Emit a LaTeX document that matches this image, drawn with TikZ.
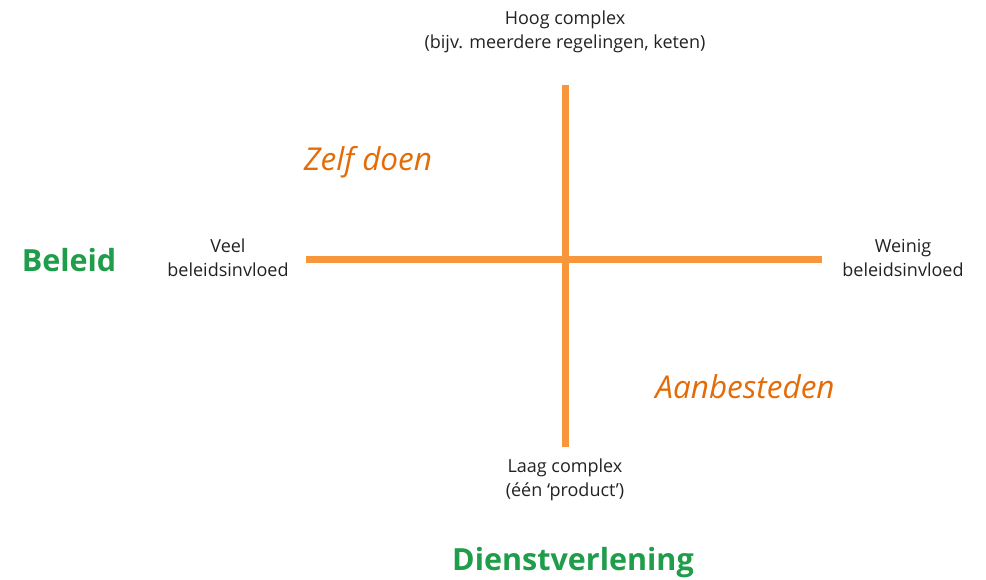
\documentclass[tikz,border=0pt]{standalone}
\usepackage{fontspec}
\setmainfont{Open Sans}
\definecolor{axisorange}{HTML}{F7963B}
\definecolor{labelorange}{HTML}{E36C09}
\definecolor{titlegreen}{HTML}{1F9D4A}
\definecolor{textgray}{HTML}{222222}
\begin{document}
\begin{tikzpicture}[x=1pt,y=-1pt,
  axis/.style={draw=axisorange,line width=7pt},
  endlabel/.style={align=center,text=textgray,font=\fontsize{18}{24.5}\selectfont,inner sep=0pt},
  quadrant/.style={text=labelorange,font=\fontsize{31.5}{34}\selectfont\itshape,inner sep=0pt},
  dimension/.style={text=titlegreen,font=\fontsize{30.5}{33}\selectfont\bfseries,inner sep=0pt}]
\useasboundingbox (0,0) rectangle (986,580);
% axes
\coordinate (L) at (306,260);
\coordinate (R) at (822,260);
\coordinate (T) at (565,85);
\coordinate (B) at (565,447);
\draw[axis] (L) -- (R);
\draw[axis] (T) -- (B);
% axis end labels
\node[endlabel] (top) at (565,32) {Hoog complex\\(bijv. meerdere regelingen, keten)};
\node[endlabel] (bottom) at (565,480) {Laag complex\\(één ‘product’)};
\node[endlabel] (left) at (228,258) {Veel\\beleidsinvloed};
\node[endlabel] (right) at (903,258) {Weinig\\beleidsinvloed};
% quadrant labels
\node[quadrant] (zelf) at (368,162) {Zelf doen};
\node[quadrant] (aanb) at (745,387) {Aanbesteden};
% dimension titles
\node[dimension] (beleid) at (69,260) {Beleid};
\node[dimension] (dienst) at (573,563) {Dienstverlening};
\end{tikzpicture}
\end{document}
